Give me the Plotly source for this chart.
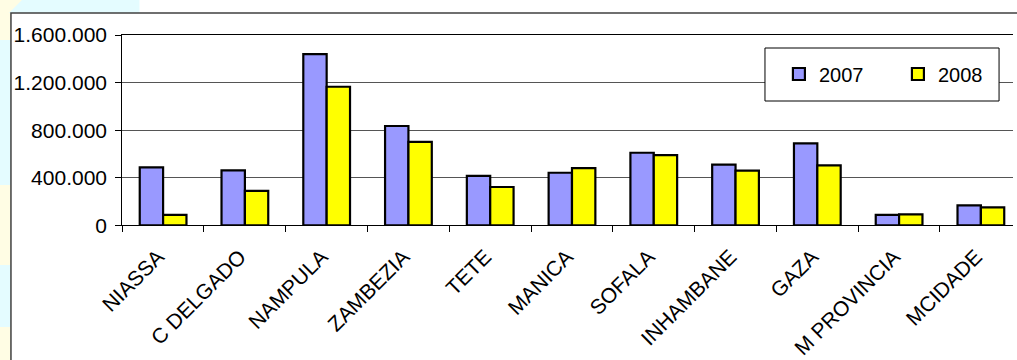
import plotly.graph_objects as go

# Province totals for the two years
provinces = ["NIASSA", "C DELGADO", "NAMPULA", "ZAMBEZIA", "TETE", "MANICA",
             "SOFALA", "INHAMBANE", "GAZA", "M PROVINCIA", "MCIDADE"]
values_2007 = [487000, 462000, 1440000, 835000, 415000, 442000,
               610000, 510000, 688000, 88000, 167000]
values_2008 = [88000, 290000, 1165000, 702000, 322000, 480000,
               590000, 460000, 503000, 92000, 150000]
y_ticks = [0, 400000, 800000, 1200000, 1600000]

W, H = 1017, 360
FONT = "Arial, 'Liberation Sans', sans-serif"


def px(x):
    return x / W


def py(y):
    return 1 - y / H


# plot-area geometry in pixels
PLOT_L, PLOT_T, PLOT_B = 122.7, 35.0, 225.3
CAT_W = 82.1
x_max = -0.5 + (W - PLOT_L) / CAT_W

fig = go.Figure()
fig.add_bar(name="2007", x=provinces, y=values_2007,
            marker=dict(color="#9999FF", line=dict(color="black", width=2.2)))
fig.add_bar(name="2008", x=provinces, y=values_2008,
            marker=dict(color="#FFFF00", line=dict(color="black", width=2.2)))

CYAN = "#E4FCFF"
YELLOW = "#FFFDE4"
shapes = []


def rect(x0, y0, x1, y1, fill, layer="below", line=None):
    shapes.append(dict(type="rect", xref="paper", yref="paper",
                       x0=px(x0), x1=px(x1), y0=py(y1), y1=py(y0),
                       fillcolor=fill, layer=layer,
                       line=line or dict(width=0)))


# slide background showing around the chart frame
rect(0, 0, 140, 13, CYAN)
rect(0, 13, 11, 40, YELLOW)
rect(0, 40, 11, 185, CYAN)
rect(0, 185, 11, 265, YELLOW)
rect(0, 265, 11, 327, CYAN)
rect(0, 327, 11, 360, YELLOW)
shapes.append(dict(type="path", xref="paper", yref="paper",
                   path=f"M0,1 L{px(22)},1 L0,{py(22)} Z",
                   fillcolor=YELLOW, line=dict(width=0), layer="below"))

# chart frame
rect(11, 13, W + 10, H + 10, "rgba(0,0,0,0)",
     line=dict(color="#404040", width=1.5))

# legend frame
rect(768, 48, 1003, 101, "white", layer="above",
     line=dict(color="black", width=1))

fig.update_layout(
    shapes=shapes,
    width=W, height=H,
    margin=dict(l=0, r=0, t=0, b=0),
    paper_bgcolor="white", plot_bgcolor="white",
    barmode="group", bargap=1.5 / 3.5, bargroupgap=0,
    separators=",.",
    font=dict(family=FONT, size=21, color="black"),
    showlegend=True,
    legend=dict(orientation="h", x=px(782), y=py(74),
                xanchor="left", yanchor="middle",
                bgcolor="rgba(0,0,0,0)", borderwidth=0,
                font=dict(family=FONT, size=20, color="black"),
                entrywidth=74, entrywidthmode="pixels"),
    xaxis=dict(type="category", domain=[px(PLOT_L), 1], range=[-0.5, x_max],
               showline=True, linecolor="black", linewidth=1, mirror=True,
               ticks="outside", ticklen=6, tickcolor="black",
               tickson="boundaries", tickangle=-45,
               ticklabelstandoff=10, ticklabelshift=-5,
               showgrid=False, automargin=False, fixedrange=True),
    yaxis=dict(domain=[py(PLOT_B), py(PLOT_T)], range=[0, 1600000],
               tickvals=y_ticks, tickformat=",d",
               showline=True, linecolor="black", linewidth=1,
               ticks="outside", ticklen=6, tickcolor="black",
               ticklabelstandoff=4,
               showgrid=True, gridcolor="#555555", gridwidth=1,
               zeroline=False, automargin=False, fixedrange=True),
)

fig.write_html("out.html")
